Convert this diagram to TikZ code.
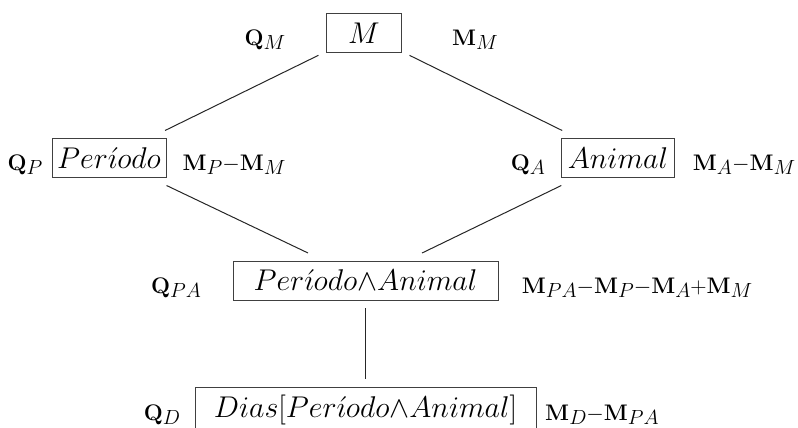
\RequirePackage{fix-cm}
\documentclass[tikz,border=0pt]{standalone}
\newcommand{\sbx}[1]{\raisebox{-4pt}{\fontsize{20.5}{21}\selectfont$#1$}}
\tikzset{
  box/.style={draw=black!75, line width=1pt, font=\fontsize{30}{36}\selectfont, minimum height=39pt, inner xsep=0pt, inner ysep=0pt, outer sep=8pt},
  lbl/.style={font=\fontsize{22.5}{26}\selectfont, anchor=base, inner sep=0pt},
  link/.style={draw=black!85, line width=1pt}
}
\begin{document}
\begin{tikzpicture}[x=1pt,y=-1pt]
\useasboundingbox (0,0) rectangle (798,428);
\node[box, minimum width=75pt] (m) at (364,33) {$M$};
\node[box, minimum width=114pt] (per) at (109,158) {$Per\acute{\imath}odo$};
\node[box, minimum width=113pt] (ani) at (618,158) {$Animal$};
\node[box, minimum width=265pt] (pa) at (365.5,280.5) {$Per\acute{\imath}odo{\wedge}Animal$};
\node[box, minimum width=341pt, minimum height=45pt] (d) at (365.5,409.5) {$Dias[Per\acute{\imath}odo{\wedge}Animal]$};
\node[lbl] (qm) at (265,45.5) {$\mathbf{Q}\sbx{M}$};
\node[lbl] (mm) at (475,45.5) {$\mathbf{M}\sbx{M}$};
\node[lbl] (qp) at (25,170.5) {$\mathbf{Q}\sbx{P}$};
\node[lbl] (mp) at (234,170.5) {$\mathbf{M}\sbx{P}{-}\mathbf{M}\sbx{M}$};
\node[lbl] (qa) at (528,170.5) {$\mathbf{Q}\sbx{A}$};
\node[lbl] (ma) at (744,170.5) {$\mathbf{M}\sbx{A}{-}\mathbf{M}\sbx{M}$};
\node[lbl] (qpa) at (176,293) {$\mathbf{Q}\sbx{PA}$};
\node[lbl] (mpa) at (637,293) {$\mathbf{M}\sbx{PA}{-}\mathbf{M}\sbx{P}{-}\mathbf{M}\sbx{A}{+}\mathbf{M}\sbx{M}$};
\node[lbl] (qd) at (162,420) {$\mathbf{Q}\sbx{D}$};
\node[lbl] (md) at (602,420) {$\mathbf{M}\sbx{D}{-}\mathbf{M}\sbx{PA}$};
\draw[link] (m) -- (per);
\draw[link] (m) -- (ani);
\draw[link] (per) -- (pa);
\draw[link] (ani) -- (pa);
\draw[link] (pa) -- (d);
\end{tikzpicture}
\end{document}
